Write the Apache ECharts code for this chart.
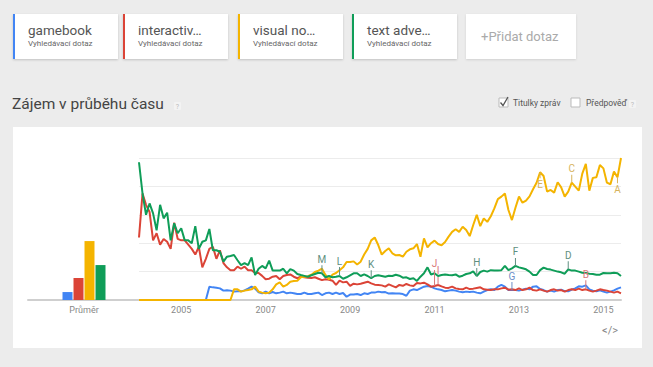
<!DOCTYPE html>
<html><head><meta charset="utf-8">
<script src="https://cdn.jsdelivr.net/npm/echarts@6/dist/echarts.min.js"></script>
<style>html,body{margin:0;padding:0;background:#ececec;}#c{width:653px;height:367px;}</style>
</head><body><div id="c"></div>
<script>
// ---------- data ----------
const cardLabels = ['gamebook', 'interactiv…', 'visual no…', 'text adve…'];
const cardSub = 'Vyhledávací dotaz';
const addLabel = '+Přidat dotaz';
const titleText = 'Zájem v průběhu času';
const checkLabels = ['Titulky zpráv', 'Předpověď'];
const avgLabel = 'Průměr';
const yearTicks = ['2005', '2007', '2009', '2011', '2013', '2015'];
const startYear = 2004;
const monthCount = 138; // Jan 2004 .. Jun 2015
const avgValues = [5.6, 15.5, 41.5, 24.6];

const gamebook = [0,0,0,0,0,0,0,0,0,0,0,0,0,0,0,0,0,0,0,0,
  9.4,8.9,8.7,8.2,6.6,6.8,6.6,5.9,6.1,6.1,6.8,8,9.4,8,5.4,4.7,
  5.9,4.7,5.6,4.7,5.2,5.9,4.7,5.2,4.7,4.2,4.2,5.2,4.2,4.2,4.7,5.2,3.5,4.7,5.2,4.2,5.2,4.2,4.9,2.3,3.8,3.8,4.2,3.5,4.7,4.2,5.2,5.2,5.9,5.4,5.6,
  4.5,4.7,4.5,4.5,4.2,3,6.6,7.5,7,8.2,9.4,9.9,9.4,8.2,7.5,7,6.1,6.6,7,6.6,5.9,5.4,5.9,5.6,5.9,5.2,4.7,5.9,7,7.5,7,9.4,10.6,9.4,7,
  7,7,6.6,7.3,8,7.5,9.4,9.6,7.7,7,5.9,6.6,5.9,7,7.3,6.3,6.1,7.3,8.2,9.6,9.4,10.3,7.5,6.6,6.1,6.8,5.9,5.2,5.9,6.8,8,8.9];
const interactiveFiction = [44,75,67,62,42,47,39,43,41,36,54.5,43,42,42,39,36,32,37.5,23,29,36,37.5,29,35,26,23,21,21,23.5,22,23.5,21,21,19,19,17,
  14.6,15,16.4,16.9,14.6,16.9,17.6,18,16.4,15.3,16.4,16,15.7,15.5,16,15,14,14.6,14.3,13.6,10.6,13.6,12.4,12.9,9.9,11.5,11,11.5,12.2,12.9,11.7,10.8,10.6,10.3,9.4,
  11,9.9,8.9,10.6,10,11.3,10.3,9.9,12,11.7,12.2,11,9.4,9.9,10.6,9.6,8.7,8.5,9.4,8.2,7.7,7.5,8.7,7.7,8,8.5,8.9,7.5,7.3,7,7.5,7.5,8.2,8.7,7.3,
  7.5,7,8.2,7,7.5,8.7,7,6.6,7.5,6.6,5.9,7,7.5,6.6,7,5.9,7,7.5,7,8,7,7.5,6.6,5.9,6.6,7.5,7,6.6,5.9,5.2,5.9,4.7];
const visualNovel = [0,0,0,0,0,0,0,0,0,0,0,0,0,0,0,0,0,0,0,0,0,0,0,0,0,0,0,
  7.5,7.5,5.9,6.6,7,7.5,9.4,5.9,5.2,
  4.7,5.2,7.5,11,12.4,9.4,10.6,12.9,13.4,13.6,16,16.4,16.7,17.8,19.7,20.7,22,17.6,14.6,17.8,19,21,23,26.8,26.8,27.2,25,27,32,36,42,44,38.7,32,34.5,
  36.4,32.9,31.5,31.7,30.5,34,35.7,36.4,39.4,30.5,43.4,37,40,41.8,39.4,38.5,40.8,44.6,48,49.8,48,51.6,49.3,45,52.8,60,52,57.5,55,59,64.5,71,72.8,75,63.4,
  56.3,65,72.8,68.5,70,73,78,82.6,90,87.3,76.3,77.5,75.6,82.9,79.3,72.8,76.3,82.6,79.8,77,89,95.8,77,86,86.4,95,92.7,82.6,81.5,90.4,86.4,100];
const textAdventure = [97,75,60,68,61,49,67,57.5,61.5,42,54,47,50.5,42,42,40,52,36,41,42,50,35,35,34,27,30.5,31,31.7,28,24.6,26,24.6,30,17.6,22,24,
  22.3,27.7,20.7,20.7,20.7,22,18.8,21.8,20.7,18.3,17.6,17,16.4,17.4,18.3,19.2,18.8,16,16.9,16,16.4,16.9,15,16,17.4,18.8,18.8,16.9,18,16.9,15.3,16.9,17.4,16.9,16.4,
  17.1,16.9,17.8,17.1,15.7,16,14.8,15.3,13.4,16.4,18.8,23,18,18.8,16.9,17.6,18,17.6,17.4,18,16.4,17.1,18.3,18.8,20.2,16.9,19.7,20.7,20,21,20.7,20.7,21,24,21,
  22.3,24,23,22.3,21.6,20,17.6,17.6,21,22.8,21.8,21.4,20.7,20,19.5,18.5,21.6,20.7,20.7,20,19.2,19,18.5,18.3,17.8,17.8,19,18.8,18.8,19.2,18.8,16.9];

// news annotations: letter, series index, month index
const noteLetters = ['M', 'L', 'K', 'J', 'I', 'H', 'G', 'F', 'E', 'D', 'C', 'B', 'A'];
const noteSeries  = [3, 3, 3, 1, 1, 3, 0, 3, 2, 3, 2, 1, 2];
const noteMonths  = [52, 57, 66, 84, 85, 96, 106, 107, 114, 122, 123, 127, 136];

// ---------- styling ----------
const colors = ['#4285f4', '#db4437', '#f4b400', '#0f9d58'];
const noteColors = ['#6d8fc9', '#d9777a', '#d6b35c', '#5f8f80'];
const noteLen = {M: 8, L: 9, K: 8, J: 16, I: 8, H: 8, G: 8, F: 8, E: 6, D: 8, C: 8, B: 9, A: 6};
const noteDown = {E: true, A: true};
const FONT = 'Roboto, "Noto Sans", sans-serif';

const seriesData = [gamebook, interactiveFiction, visualNovel, textAdventure];
const categories = [];
for (let i = 0; i < monthCount; i++) {
  const y = startYear + Math.floor(i / 12);
  const m = (i % 12) + 1;
  categories.push(y + '-' + (m < 10 ? '0' + m : m));
}

const chart = echarts.init(document.getElementById('c'), null, {renderer: 'svg'});

const markFor = (si) => {
  const items = [];
  noteLetters.forEach((L, k) => {
    if (noteSeries[k] !== si) return;
    const m = noteMonths[k];
    const len = noteLen[L];
    const down = !!noteDown[L];
    const c = noteColors[si];
    items.push({
      coord: [categories[m], seriesData[si][m]],
      name: L,
      symbol: 'rect',
      symbolSize: [1, len],
      symbolOffset: [0, down ? len / 2 : -len / 2],
      itemStyle: {color: c},
      label: {show: true, formatter: L, position: down ? 'bottom' : 'top', distance: 1,
        color: c, fontSize: 10, fontFamily: FONT}
    });
  });
  return {silent: true, animation: false, data: items};
};

const lineSeries = seriesData.map((d, i) => ({
  type: 'line', data: d, xAxisIndex: 0, yAxisIndex: 0,
  showSymbol: false, symbol: 'none', animation: false,
  lineStyle: {width: 2, color: colors[i]}, itemStyle: {color: colors[i]},
  markPoint: markFor(i)
}));

const barSeries = avgValues.map((v, i) => ({
  type: 'bar', data: [v], xAxisIndex: 1, yAxisIndex: 1,
  barWidth: 10, barGap: '10%', animation: false,
  itemStyle: {color: colors[i]}
}));

// graphic elements
const g = [];
g.push({type: 'rect', z: -10, shape: {x: 13, y: 127, width: 629, height: 221}, style: {fill: '#fff'}, silent: true});
const cardX = [13, 123, 238, 352];
cardX.forEach((x, i) => {
  g.push({type: 'rect', shape: {x: x, y: 14, width: 105, height: 45},
    style: {fill: '#fff', shadowBlur: 2, shadowOffsetY: 1, shadowColor: 'rgba(0,0,0,0.18)'}});
  g.push({type: 'rect', shape: {x: x, y: 14, width: 2, height: 45}, style: {fill: colors[i]}});
  g.push({type: 'text', x: x + 15, y: 30, style: {text: cardLabels[i], fill: '#555', font: '13.5px ' + FONT, verticalAlign: 'middle'}});
  g.push({type: 'text', x: x + 15, y: 43, style: {text: cardSub, fill: '#666', font: '8px ' + FONT, verticalAlign: 'middle'}});
});
g.push({type: 'rect', shape: {x: 466, y: 14, width: 110, height: 45},
  style: {fill: '#fff', shadowBlur: 2, shadowOffsetY: 1, shadowColor: 'rgba(0,0,0,0.12)'}});
g.push({type: 'text', x: 481, y: 36.5, style: {text: addLabel, fill: '#aaa', font: '13px ' + FONT, verticalAlign: 'middle'}});

g.push({type: 'text', x: 12, y: 104, style: {text: titleText, fill: '#444', font: '15.5px ' + FONT, verticalAlign: 'middle'}});
g.push({type: 'rect', shape: {x: 174, y: 102, width: 7, height: 8, r: 1}, style: {fill: '#f3f3f3'}});
g.push({type: 'text', x: 177.5, y: 106.5, style: {text: '?', fill: '#bbb', font: '7px ' + FONT, align: 'center', verticalAlign: 'middle'}});

// checkboxes
g.push({type: 'rect', shape: {x: 499, y: 98, width: 9, height: 9}, style: {fill: '#fff', stroke: '#bbb', lineWidth: 1}});
g.push({type: 'polyline', shape: {points: [[500.5, 102.5], [503, 105.5], [508, 97]]}, style: {stroke: '#555', lineWidth: 1.3, fill: null}});
g.push({type: 'text', x: 513, y: 103, style: {text: checkLabels[0], fill: '#555', font: '8.5px ' + FONT, verticalAlign: 'middle'}});
g.push({type: 'rect', shape: {x: 571, y: 98, width: 9, height: 9}, style: {fill: '#fff', stroke: '#bbb', lineWidth: 1}});
g.push({type: 'text', x: 586, y: 103, style: {text: checkLabels[1], fill: '#555', font: '8.5px ' + FONT, verticalAlign: 'middle'}});
g.push({type: 'rect', shape: {x: 629, y: 100, width: 7, height: 8, r: 1}, style: {fill: '#f3f3f3'}});
g.push({type: 'text', x: 632.5, y: 104.5, style: {text: '?', fill: '#bbb', font: '7px ' + FONT, align: 'center', verticalAlign: 'middle'}});

g.push({type: 'text', x: 610, y: 330, style: {text: '</>', fill: '#888', font: '11px ' + FONT, align: 'center', verticalAlign: 'middle'}});

chart.setOption({
  backgroundColor: '#ececec',
  animation: false,
  graphic: {elements: g},
  grid: [
    {left: 139, right: 32, top: 158, bottom: 67, containLabel: false},
    {left: 28, width: 112, top: 158, bottom: 67, containLabel: false}
  ],
  xAxis: [
    {type: 'category', gridIndex: 0, data: categories, boundaryGap: false,
      axisLine: {lineStyle: {color: '#cfcfcf', width: 2}}, axisTick: {show: false},
      axisLabel: {
        interval: (idx, val) => val.slice(5) === '01' && yearTicks.indexOf(val.slice(0, 4)) >= 0,
        formatter: (val) => val.slice(0, 4), color: '#888', fontSize: 9, margin: 5, fontFamily: FONT
      },
      splitLine: {show: false}},
    {type: 'category', gridIndex: 1, data: [avgLabel],
      axisLine: {lineStyle: {color: '#cfcfcf', width: 2}}, axisTick: {show: false},
      axisLabel: {color: '#888', fontSize: 9, margin: 5, fontFamily: FONT}}
  ],
  yAxis: [
    {type: 'value', gridIndex: 0, min: 0, max: 100, interval: 20,
      axisLine: {show: false}, axisTick: {show: false}, axisLabel: {show: false},
      splitLine: {lineStyle: {color: '#ececec', width: 1}}},
    {type: 'value', gridIndex: 1, min: 0, max: 100, show: false, splitLine: {show: false}}
  ],
  series: barSeries.concat(lineSeries)
});
</script></body></html>
